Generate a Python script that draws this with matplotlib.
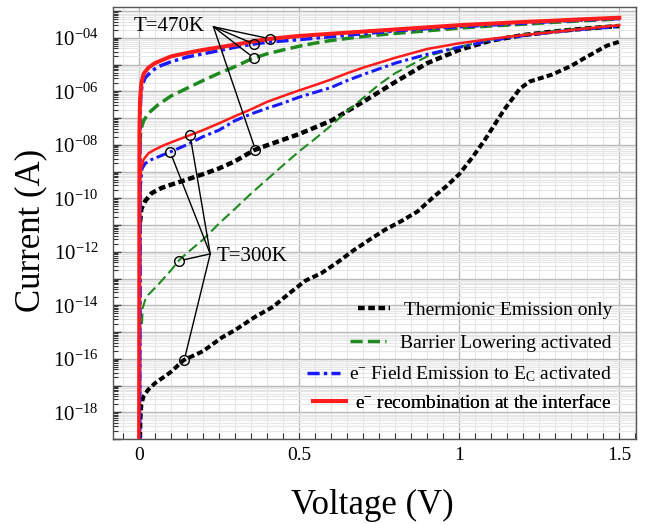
import numpy as np
import matplotlib
matplotlib.use("Agg")
import matplotlib.pyplot as plt
from matplotlib.ticker import LogLocator, FuncFormatter, NullFormatter, MultipleLocator, FixedLocator
from matplotlib.lines import Line2D

plt.rcParams['font.family'] = ['Liberation Serif', 'DejaVu Serif']
plt.rcParams['mathtext.fontset'] = 'custom'
plt.rcParams['mathtext.rm'] = 'Liberation Serif'
plt.rcParams['mathtext.it'] = 'Liberation Serif:italic'

# ---------------- data ----------------
# T = 470 K
red470_V = [0.001, 0.002, 0.004, 0.008, 0.015, 0.03, 0.05, 0.1, 0.15, 0.2, 0.3, 0.4, 0.5, 0.6, 0.7, 0.8, 0.9, 1.0, 1.1, 1.2, 1.3, 1.4, 1.5]
red470_I = [1e-20, 3.2e-8, 5.0e-7, 2.0e-6, 4.5e-6, 7.6e-6, 1.12e-5, 2.0e-5, 2.7e-5, 3.5e-5, 5.5e-5, 8.9e-5, 1.17e-4, 1.41e-4, 1.70e-4, 2.04e-4, 2.45e-4, 2.95e-4, 3.39e-4, 3.89e-4, 4.37e-4, 5.0e-4, 5.6e-4]

blue470_V = [0.002, 0.004, 0.006, 0.01, 0.02, 0.04, 0.06, 0.1, 0.15, 0.2, 0.26, 0.3, 0.35, 0.4, 0.5, 0.6, 0.7, 0.8, 0.9, 1.0, 1.1, 1.2, 1.3, 1.4, 1.5]
blue470_I = [1e-20, 1.0e-7, 6.3e-7, 1.6e-6, 3.2e-6, 5.6e-6, 8.3e-6, 1.26e-5, 1.9e-5, 2.5e-5, 3.5e-5, 4.4e-5, 5.6e-5, 6.8e-5, 8.5e-5, 1.10e-4, 1.41e-4, 1.82e-4, 2.19e-4, 2.57e-4, 3.0e-4, 3.5e-4, 4.1e-4, 4.7e-4, 5.2e-4]

green470_V = [0.004, 0.006, 0.015, 0.03, 0.06, 0.1, 0.15, 0.2, 0.25, 0.3, 0.35, 0.4, 0.45, 0.5, 0.55, 0.6, 0.7, 0.8, 0.9, 1.0, 1.1, 1.2, 1.3, 1.4, 1.5]
green470_I = [1.0e-8, 3.5e-8, 7.9e-8, 1.5e-7, 3.1e-7, 6.6e-7, 1.29e-6, 2.5e-6, 4.7e-6, 8.3e-6, 1.58e-5, 2.5e-5, 3.5e-5, 4.8e-5, 6.3e-5, 7.9e-5, 1.12e-4, 1.45e-4, 1.82e-4, 2.29e-4, 2.75e-4, 3.2e-4, 3.8e-4, 4.4e-4, 5.0e-4]

black470_V = [0.004, 0.008, 0.02, 0.04, 0.07, 0.1, 0.15, 0.2, 0.25, 0.3, 0.36, 0.4, 0.5, 0.6, 0.7, 0.8, 0.9, 1.0, 1.1, 1.2, 1.3, 1.4, 1.5]
black470_I = [1.26e-11, 4.0e-11, 7.9e-11, 1.55e-10, 2.4e-10, 3.2e-10, 5.0e-10, 7.9e-10, 1.3e-9, 2.4e-9, 6.3e-9, 9.5e-9, 2.5e-8, 7.9e-8, 4.0e-7, 2.2e-6, 1.12e-5, 3.5e-5, 7.9e-5, 1.26e-4, 1.74e-4, 2.24e-4, 2.75e-4]

# T = 300 K
red300_V = [0.001, 0.004, 0.008, 0.015, 0.03, 0.05, 0.08, 0.12, 0.16, 0.2, 0.25, 0.3, 0.35, 0.4, 0.45, 0.5, 0.55, 0.6, 0.65, 0.7, 0.8, 0.9, 1.0, 1.1, 1.2, 1.3, 1.4, 1.5]
red300_I = [1e-20, 5.0e-10, 1.41e-9, 2.8e-9, 4.8e-9, 6.6e-9, 9.8e-9, 1.51e-8, 2.3e-8, 3.5e-8, 6.3e-8, 1.17e-7, 2.1e-7, 4.0e-7, 6.6e-7, 1.07e-6, 1.7e-6, 2.75e-6, 4.7e-6, 7.6e-6, 1.78e-5, 3.8e-5, 6.2e-5, 9.1e-5, 1.26e-4, 1.66e-4, 2.24e-4, 2.95e-4]

blue300_V = [0.003, 0.005, 0.01, 0.02, 0.04, 0.1, 0.15, 0.2, 0.25, 0.3, 0.35, 0.4, 0.45, 0.5, 0.55, 0.6, 0.65, 0.7, 0.8, 0.9, 1.0, 1.1, 1.2, 1.3, 1.4, 1.5]
blue300_I = [1e-20, 2.7e-10, 1.26e-9, 2.0e-9, 2.8e-9, 5.5e-9, 1.0e-8, 2.0e-8, 3.5e-8, 7.9e-8, 1.41e-7, 2.3e-7, 3.6e-7, 6.0e-7, 9.1e-7, 1.38e-6, 2.5e-6, 4.2e-6, 1.12e-5, 2.4e-5, 4.4e-5, 7.9e-5, 1.2e-4, 1.66e-4, 2.14e-4, 2.6e-4]

green300_V = [0.01, 0.012, 0.02, 0.03, 0.06, 0.1, 0.125, 0.15, 0.2, 0.25, 0.3, 0.35, 0.4, 0.45, 0.5, 0.55, 0.6, 0.65, 0.7, 0.75, 0.8, 0.9, 1.0, 1.1, 1.2, 1.3, 1.4, 1.5]
green300_I = [2.0e-15, 7.9e-15, 1.58e-14, 2.5e-14, 5.8e-14, 2.0e-13, 4.7e-13, 8.9e-13, 2.8e-12, 1.12e-11, 4.0e-11, 1.48e-10, 5.0e-10, 1.7e-9, 5.6e-9, 1.66e-8, 5.2e-8, 1.78e-7, 5.6e-7, 1.78e-6, 4.7e-6, 2.0e-5, 4.6e-5, 8.3e-5, 1.32e-4, 1.82e-4, 2.34e-4, 2.9e-4]

black300_V = [0.003, 0.005, 0.008, 0.015, 0.03, 0.05, 0.1, 0.14, 0.2, 0.26, 0.3, 0.36, 0.42, 0.47, 0.52, 0.57, 0.62, 0.67, 0.72, 0.77, 0.82, 0.87, 0.92, 0.96, 1.0, 1.04, 1.08, 1.14, 1.19, 1.22, 1.29, 1.35, 1.39, 1.46, 1.5]
black300_I = [1e-20, 5.0e-19, 2.0e-18, 4.0e-18, 7.1e-18, 1.2e-17, 3.2e-17, 8.9e-17, 1.9e-16, 6.3e-16, 1.17e-15, 3.5e-15, 8.9e-15, 2.8e-14, 8.3e-14, 1.58e-13, 4.0e-13, 1.12e-12, 2.8e-12, 6.8e-12, 1.41e-11, 3.2e-11, 1.12e-10, 2.8e-10, 7.9e-10, 3.2e-9, 1.51e-8, 2.0e-7, 1.26e-6, 2.3e-6, 4.2e-6, 8.9e-6, 1.7e-5, 5.0e-5, 7.1e-5]

legend_labels = ["Thermionic Emission only",
                 "Barrier Lowering activated",
                 r"e$^{-}$ Field Emission to E$_{\mathrm{C}}$ activated",
                 r"e$^{-}$ recombination at the interface"]

x_ticks = [0, 0.5, 1, 1.5]
x_ticklabels = ["0", "0.5", "1", "1.5"]

# annotation: voltages of the marked points and label anchors
circ470_V = {"red": 0.41, "blue": 0.36, "green": 0.36, "black": 0.364}
circ300_V = {"red": 0.16, "blue": 0.098, "green": 0.124, "black": 0.142}
apex470 = (0.233, 2.57e-4)
apex300 = (0.223, 8.3e-13)

# ---------------- styles ----------------
RED, BLUE, GREEN, BLACK = '#ff1c1c', '#1a1aff', '#1f8a1f', '#000000'

fig = plt.figure(figsize=(6.6, 5.25), dpi=100)
ax = fig.add_axes([0.1705, 0.1638, 0.7931, 0.8234])

series = {
    "black470": (black470_V, black470_I, dict(color=BLACK, lw=3.2, ls=(0, (1.5, 0.8)), solid_capstyle='butt')),
    "green470": (green470_V, green470_I, dict(color=GREEN, lw=2.5, ls=(0, (3.5, 1.5)))),
    "blue470": (blue470_V, blue470_I, dict(color=BLUE, lw=2.5, ls=(0, (3.5, 1.2, 1.0, 1.2)))),
    "red470": (red470_V, red470_I, dict(color=RED, lw=2.9, ls='-')),
    "black300": (black300_V, black300_I, dict(color=BLACK, lw=2.9, ls=(0, (1.5, 0.8)))),
    "green300": (green300_V, green300_I, dict(color=GREEN, lw=1.5, ls=(0, (5, 2.2)))),
    "blue300": (blue300_V, blue300_I, dict(color=BLUE, lw=2.2, ls=(0, (3.5, 1.2, 1.0, 1.2)))),
    "red300": (red300_V, red300_I, dict(color=RED, lw=1.8, ls='-')),
}
handles = {}
for name, (v, i, st) in series.items():
    ln, = ax.plot(v, i, zorder=3, **st)
    handles[name] = ln

ax.set_yscale('log')
ax.set_xlim(-0.082, 1.552)
ax.set_ylim(1e-19, 10 ** -2.84)

# ticks
ax.xaxis.set_major_locator(FixedLocator(x_ticks))
ax.set_xticklabels(x_ticklabels)
ax.xaxis.set_minor_locator(MultipleLocator(0.05))
ax.yaxis.set_major_locator(LogLocator(base=10, numticks=40))
ax.yaxis.set_minor_locator(LogLocator(base=10, subs=np.arange(2, 10), numticks=40))
ax.yaxis.set_minor_formatter(NullFormatter())

def yfmt(v, pos):
    e = int(round(np.log10(v)))
    if e % 2 != 0:
        return ""
    return r"$\mathregular{10^{-%02d}}$" % (-e)
ax.yaxis.set_major_formatter(FuncFormatter(yfmt))

ax.tick_params(which='both', direction='in', top=False, right=False, colors='#333333', labelcolor='black')
ax.tick_params(axis='y', which='major', length=6, width=1, labelsize=15, pad=10)
ax.tick_params(axis='y', which='minor', length=3.5, width=0.8)
ax.tick_params(axis='x', which='major', length=4, width=0.8, labelsize=14, pad=6)
ax.tick_params(axis='x', which='minor', length=4, width=0.8)

ax.set_axisbelow(True)
ax.grid(which='major', color='#b8b8b8', lw=1.0)
ax.grid(which='minor', color='#e6e6e6', lw=0.8)
for s in ax.spines.values():
    s.set_color('#555555')
    s.set_linewidth(1.0)

# annotation circles + leader lines
curve_for = {
    470: {"red": (red470_V, red470_I), "blue": (blue470_V, blue470_I), "green": (green470_V, green470_I), "black": (black470_V, black470_I)},
    300: {"red": (red300_V, red300_I), "blue": (blue300_V, blue300_I), "green": (green300_V, green300_I), "black": (black300_V, black300_I)},
}
for T, circ, apex in ((470, circ470_V, apex470), (300, circ300_V, apex300)):
    for key, vc in circ.items():
        v, i = curve_for[T][key]
        ic = 10 ** np.interp(vc, v, np.log10(i))
        ax.plot([vc], [ic], 'o', ms=7, mfc='none', mec='black', mew=1.0, zorder=5)
        ax.annotate('', xy=(vc, ic), xytext=apex,
                    arrowprops=dict(arrowstyle='-', color='black', lw=1.0, shrinkA=0, shrinkB=3.6), zorder=5)

ax.text(0.207, 2.57e-4, "T=470K", ha='right', va='center', fontsize=15, zorder=6)
ax.text(0.244, 6.6e-13, "T=300K", ha='left', va='center', fontsize=15, zorder=6)

# legend: one right-aligned row per entry
leg_handles = [handles["black470"], handles["green470"], handles["blue470"], handles["red470"]]
rows_y = [0.298, 0.221, 0.150, 0.084]
hlens = [1.65, 1.85, 1.7, 1.7]
hpads = [0.67, 0.72, 0.46, 0.46]
for h, lab, y, hl, hp in zip(leg_handles, legend_labels, rows_y, hlens, hpads):
    leg = ax.legend([h], [lab], loc='center right', bbox_to_anchor=(0.954, y),
                    frameon=False, fontsize=14, handlelength=hl, handletextpad=hp,
                    borderpad=0, borderaxespad=0)
    ax.add_artist(leg)

fig.text(31 / 660, 1 - 230 / 525, "Current (A)", rotation=90, ha='center', va='center', fontsize=25)
fig.text(372 / 660, 1 - 505 / 525, "Voltage (V)", ha='center', va='center', fontsize=25)

fig.savefig("out.png", dpi=100)
